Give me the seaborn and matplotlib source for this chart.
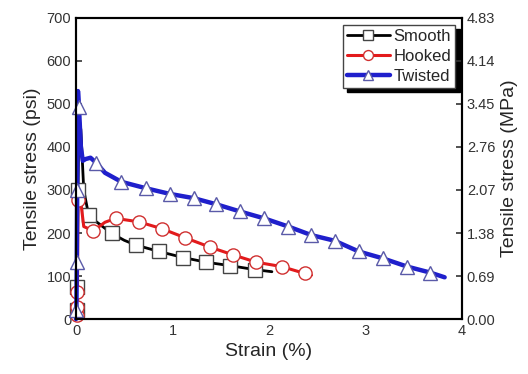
import numpy as np
import matplotlib.pyplot as plt
import seaborn as sns

# strain (%) and tensile stress (psi)
smooth_x = [0, 0.005, 0.01, 0.015, 0.02, 0.03, 0.05, 0.08, 0.13, 0.2, 0.37, 0.5,
            0.62, 0.86, 1.11, 1.35, 1.60, 1.85, 2.03]
smooth_y = [0, 20, 75, 160, 300, 470, 440, 300, 242, 228, 199, 183,
            172, 157, 143, 132, 124, 115, 110]
smooth_marks = [1, 2, 4, 8, 10, 12, 13, 14, 15, 16, 17]

hooked_x = [0, 0.005, 0.01, 0.015, 0.02, 0.04, 0.08, 0.18, 0.3, 0.41, 0.65, 0.89,
            1.13, 1.39, 1.63, 1.87, 2.13, 2.37, 2.44]
hooked_y = [0, 9, 29, 63, 277, 290, 215, 205, 225, 234, 226, 210,
            189, 167, 149, 132, 122, 106, 102]
hooked_marks = [1, 2, 3, 4, 7, 9, 10, 11, 12, 13, 14, 15, 16, 17]

twisted_x = [0, 0.004, 0.008, 0.012, 0.016, 0.02, 0.03, 0.05, 0.07, 0.1, 0.15, 0.21,
             0.3, 0.47, 0.725, 0.97, 1.22, 1.45, 1.70, 1.95, 2.20, 2.44, 2.68,
             2.93, 3.18, 3.43, 3.67, 3.82]
twisted_y = [0, 20, 133, 300, 420, 530, 494, 400, 368, 372, 375, 363,
             340, 319, 304, 291, 281, 267, 250, 234, 215, 195, 182,
             157, 141, 122, 108, 97]
twisted_marks = [1, 2, 3, 6, 11, 13, 14, 15, 16, 17, 18, 19, 20, 21, 22, 23, 24, 25, 26]

mpa_ticks = [0.00, 0.69, 1.38, 2.07, 2.76, 3.45, 4.14, 4.83]

series = [
    ("Smooth", smooth_x, smooth_y, smooth_marks, "black", "s", "#444444", 2.0),
    ("Hooked", hooked_x, hooked_y, hooked_marks, "#e31a1c", "o", "#d03030", 2.2),
    ("Twisted", twisted_x, twisted_y, twisted_marks, "#1f1fcc", "^", "#5a5aa8", 3.2),
]

sns.set_style("white")
plt.rcParams['font.family'] = ['Liberation Sans', 'DejaVu Sans']
plt.rcParams['xtick.direction'] = 'in'
plt.rcParams['ytick.direction'] = 'in'

fig = plt.figure(figsize=(5.28, 3.74), dpi=100)
ax = fig.add_axes([0.144, 0.147, 0.731, 0.805])

for name, xs, ys, marks, col, mk, mec, lw in series:
    sns.lineplot(x=xs, y=ys, ax=ax, sort=False, color=col, lw=lw, marker=mk,
                 markevery=marks, markersize=9.5, markerfacecolor="white",
                 markeredgecolor=mec, markeredgewidth=1, label=name, clip_on=False,
                 estimator=None)

ax.set_xlim(0, 4)
ax.set_ylim(0, 700)
ax.set_xticks([0, 1, 2, 3, 4])
ax.set_yticks(np.arange(0, 701, 100))
ax.tick_params(labelsize=10.5, length=4, width=1.2, colors="#333333")
ax.set_xlabel("Strain (%)", fontsize=14)
ax.set_ylabel("Tensile stress (psi)", fontsize=14)
for sp in ax.spines.values():
    sp.set_linewidth(1.5)
    sp.set_color("black")

ax2 = ax.twinx()
ax2.set_ylim(0, 4.83)
ax2.set_yticks(mpa_ticks)
ax2.set_yticklabels([f"{t:.2f}" for t in mpa_ticks])
ax2.tick_params(labelsize=10.5, length=4, width=1.2, direction="in", colors="#333333")
ax2.set_ylabel("Tensile stress (MPa)", fontsize=14)
for sp in ax2.spines.values():
    sp.set_linewidth(1.5)
    sp.set_color("black")

leg = ax.legend(loc="upper right", fontsize=12, frameon=True, fancybox=False,
                shadow={"color": "black", "alpha": 1, "ox": 3, "oy": -3},
                edgecolor="#444444", handlelength=2.6, handletextpad=0.2,
                borderpad=0.25, labelspacing=0.3, borderaxespad=0.4,
                markerscale=0.75)
leg.get_frame().set_linewidth(1)
leg.get_frame().set_alpha(1)

fig.savefig("out.png", dpi=100)
